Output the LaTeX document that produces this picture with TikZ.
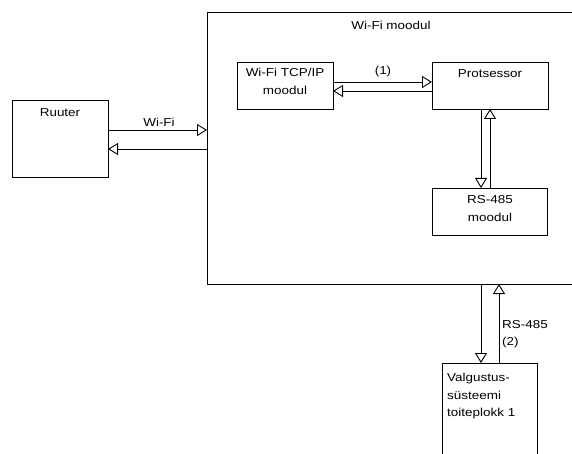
\documentclass[tikz,border=0pt]{standalone}
\usepackage{fontspec}
\setmainfont[FakeStretch=1.17]{Liberation Sans}
\usetikzlibrary{arrows.meta}
\begin{document}
\begin{tikzpicture}[x=1pt,y=-1pt,
  every node/.style={font=\fontsize{11.5}{17.5}\selectfont, inner sep=1pt},
  box/.style={draw, line width=0.9pt, rectangle, inner sep=0pt, outer sep=0pt, anchor=north west},
  arr/.style={draw, line width=0.9pt, -{Triangle[open,length=10pt,width=12pt,fill=white]}}]
\useasboundingbox (0,0) rectangle (572,454);
\clip (0,0) rectangle (572,454);
% boxes
\node[box, minimum width=380pt, minimum height=272pt] (wifi) at (207,12) {};
\node[box, minimum width=96pt, minimum height=77pt] (ruuter) at (12,100) {};
\node[box, minimum width=96pt, minimum height=47pt] (tcp) at (237,62) {};
\node[box, minimum width=116pt, minimum height=47pt] (cpu) at (432,62) {};
\node[box, minimum width=115pt, minimum height=47pt] (rs) at (432,188) {};
\node[box, minimum width=95pt, minimum height=120pt] (psu) at (442,363) {};
% texts
\node (wifiT) at (391,25) {Wi-Fi moodul};
\node (ruuterT) at (60,113) {Ruuter};
\node[align=center] (tcpT) at (285,81.5) {Wi-Fi TCP/IP\\moodul};
\node (cpuT) at (490,74) {Protsessor};
\node[align=center] (rsT) at (490,208.5) {RS-485\\moodul};
\node[align=left, anchor=north west] (psuT) at (446,372) {Valgustus-\\süsteemi\\toiteplokk 1};
\node (wifilbl) at (159,122) {Wi-Fi};
\node (onelbl) at (383,72) {(1)};
\node[align=left, anchor=west] (twolbl) at (501,334) {RS-485\\(2)};
% connector end points
\coordinate (w1) at ([yshift=-30pt]ruuter.north east);
\coordinate (w2) at ([yshift=-49pt]ruuter.north east);
\coordinate (t1) at ([yshift=-20pt]tcp.north east);
\coordinate (t2) at ([yshift=-29pt]tcp.north east);
\coordinate (c1) at ([xshift=49pt]cpu.south west);
\coordinate (c2) at ([xshift=58pt]cpu.south west);
\coordinate (p1) at ([xshift=39pt]psu.north west);
\coordinate (p2) at ([xshift=57pt]psu.north west);
% connectors
\draw[arr] (w1) -- (w1 -| wifi.west);
\draw[arr] (w2 -| wifi.west) -- (w2);
\draw[arr] (t1) -- (t1 -| cpu.west);
\draw[arr] (t2 -| cpu.west) -- (t2);
\draw[arr] (c1) -- (c1 |- rs.north);
\draw[arr] (c2 |- rs.north) -- (c2);
\draw[arr] (p1 |- wifi.south) -- (p1);
\draw[arr] (p2) -- (p2 |- wifi.south);
\end{tikzpicture}
\end{document}
